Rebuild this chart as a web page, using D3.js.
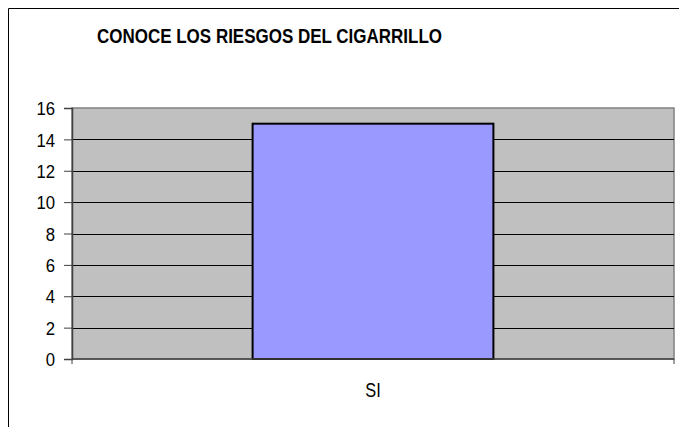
<!DOCTYPE html>
<html>
<head>
<meta charset="utf-8">
<script src="https://cdn.jsdelivr.net/npm/d3@7"></script>
<style>
  html, body { margin: 0; padding: 0; background: #fff; }
  svg { display: block; font-family: "Liberation Sans", Arial, sans-serif; }
</style>
</head>
<body>
<svg></svg>
<script>
// Chart data
const categories = ["SI"];
const values = [15];
const yTicks = [0, 2, 4, 6, 8, 10, 12, 14, 16];
const title = "CONOCE LOS RIESGOS DEL CIGARRILLO";

const width = 679;
const height = 427;
const plot = { left: 72, top: 108, right: 674, bottom: 359 };
const squeeze = 0.88; // labels in the original are a bit narrow

const svg = d3.select("svg").attr("width", width).attr("height", height);

// Outer chart frame (only left and top edges visible)
svg.append("path")
  .attr("d", `M8.5,${height} V8.5 H${width}`)
  .attr("fill", "none")
  .attr("stroke", "#000")
  .attr("stroke-width", 1);

// Title
svg.append("text")
  .attr("x", 270)
  .attr("y", 43)
  .attr("text-anchor", "middle")
  .attr("textLength", 345)
  .attr("lengthAdjust", "spacingAndGlyphs")
  .style("font-size", "20px")
  .style("font-weight", "bold")
  .text(title)
  .attr("x", 97)
  .attr("text-anchor", "start");

// Scales
const x = d3.scaleBand()
  .domain(categories)
  .range([plot.left, plot.right])
  .paddingInner(0)
  .paddingOuter(0.75);

const y = d3.scaleLinear()
  .domain([0, 16])
  .range([plot.bottom, plot.top]);

// Plot background
svg.append("rect")
  .attr("x", plot.left)
  .attr("y", plot.top)
  .attr("width", plot.right - plot.left)
  .attr("height", plot.bottom - plot.top)
  .attr("fill", "#c0c0c0")
  .attr("stroke", "#808080")
  .attr("stroke-width", 1.5);

// Gridlines
svg.append("g")
  .selectAll("line")
  .data(yTicks.filter((d) => d > 0 && d < 16))
  .join("line")
  .attr("x1", plot.left)
  .attr("x2", plot.right)
  .attr("y1", (d) => Math.round(y(d)) + 0.5)
  .attr("y2", (d) => Math.round(y(d)) + 0.5)
  .attr("stroke", "#000")
  .attr("stroke-width", 1);

// Bars
svg.append("g")
  .selectAll("rect")
  .data(values)
  .join("rect")
  .attr("x", (d, i) => x(categories[i]))
  .attr("y", (d) => y(d))
  .attr("width", x.bandwidth())
  .attr("height", (d) => y(0) - y(d))
  .attr("fill", "#9999ff")
  .attr("stroke", "#000")
  .attr("stroke-width", 2);

// Y axis
const yAxis = svg.append("g")
  .attr("transform", `translate(${plot.left},0)`)
  .call(d3.axisLeft(y).tickValues(yTicks).tickSize(8).tickPadding(9));
yAxis.select(".domain").attr("stroke", "#404040").attr("stroke-width", 1.5);
yAxis.selectAll(".tick line").attr("stroke", "#404040");
yAxis.selectAll("text")
  .style("font-size", "19px")
  .style("font-family", "Liberation Sans, Arial, sans-serif")
  .attr("fill", "#000")
  .attr("x", -17 / squeeze)
  .attr("dy", "0.35em")
  .attr("transform", `scale(${squeeze},1)`);

// X axis
const xAxis = svg.append("g")
  .attr("transform", `translate(0,${plot.bottom})`);
xAxis.append("line")
  .attr("x1", plot.left)
  .attr("x2", plot.right)
  .attr("stroke", "#404040")
  .attr("stroke-width", 1.5);
xAxis.selectAll(".edge")
  .data([plot.left, plot.right])
  .join("line")
  .attr("class", "edge")
  .attr("x1", (d) => d)
  .attr("x2", (d) => d)
  .attr("y1", 0)
  .attr("y2", 5)
  .attr("stroke", "#404040");
xAxis.selectAll("text")
  .data(categories)
  .join("text")
  .attr("x", (d) => (x(d) + x.bandwidth() / 2) / 0.82)
  .attr("y", 38)
  .attr("transform", "scale(0.82,1)")
  .attr("text-anchor", "middle")
  .style("font-size", "20px")
  .text((d) => d);
</script>
</body>
</html>
